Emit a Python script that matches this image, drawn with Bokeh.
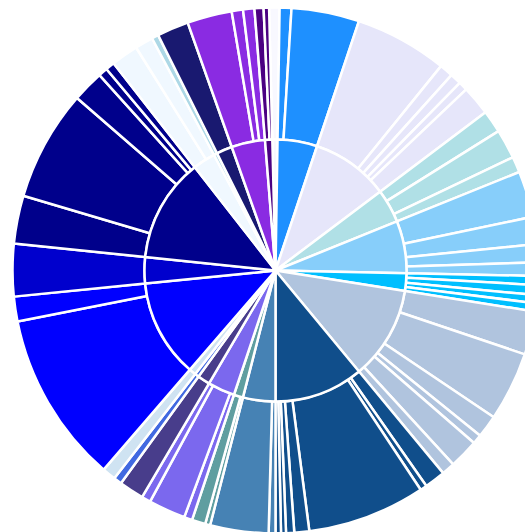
import numpy as np
from bokeh.plotting import figure
from bokeh.models import ColumnDataSource, Range1d
from bokeh.embed import file_html
from bokeh.resources import INLINE

# ---- data (clockwise from 12 o'clock) ----
parent_names = ["ghostwhite", "dodgerblue", "lavender", "powderblue", "lightskyblue",
                "deepskyblue", "lightsteelblue", "dodgerblue4", "steelblue", "cadetblue",
                "mediumslateblue", "darkslateblue", "royalblue", "paleblue", "blue",
                "mediumblue", "darkblue", "aliceblue", "lightblue", "midnightblue",
                "blueviolet", "indigo"]
parent_colors = ["#F8F8FF", "#1E90FF", "#E6E6FA", "#B0E0E6", "#87CEFA",
                 "#00BFFF", "#B0C4DE", "#104E8B", "#4682B4", "#5F9EA0",
                 "#7B68EE", "#483D8B", "#4169E1", "#CFE3F2", "#0000FF",
                 "#0000CD", "#00008B", "#F0F8FF", "#ADD8E6", "#191970",
                 "#8A2BE2", "#4B0082"]

child_parent = [0,
                1, 1,
                2, 2, 2, 2, 2,
                3, 3, 3,
                4, 4, 4, 4,
                5, 5, 5, 5,
                6, 6, 6, 6, 6, 6,
                7, 7, 7, 7, 7, 7, 7,
                8, 8,
                9, 9,
                10, 10, 10,
                11,
                12,
                13,
                14, 14,
                15,
                16, 16, 16, 16, 16,
                17, 17,
                18,
                19,
                20, 20, 20,
                21, 21]
child_size = [2.3,
              2.6, 15.0,
              20.5, 3.0, 2.5, 2.0, 6.5,
              5.0, 6.5, 3.5,
              10.2, 6.0, 4.0, 3.0,
              2.0, 2.2, 1.8, 1.8,
              9.6, 15.3, 5.0, 2.1, 6.5, 2.9,
              4.6, 1.5, 26.1, 3.3, 1.8, 1.1, 1.2,
              1.5, 12.9,
              1.1, 3.0,
              1.8, 8.2, 2.0,
              5.5,
              1.8,
              3.0,
              38.0, 5.5,
              11.6,
              10.6, 24.5, 7.0, 2.0, 2.0,
              6.0, 4.0,
              1.5,
              7.0,
              9.9, 2.5, 2.5,
              2.0, 1.2]

# ---- layout ----
W, H = 525, 532
CX, CY = 275, 270          # centre in canvas pixels
R_IN, R_OUT = 131, 263
ROTATION = -1.4            # degrees, clockwise from top

total = float(sum(child_size))
csz = np.array(child_size) / total * 360.0
c_end = ROTATION + np.cumsum(csz)
c_start = c_end - csz

psz = np.zeros(len(parent_names))
for pi, s in zip(child_parent, csz):
    psz[pi] += s
p_end = ROTATION + np.cumsum(psz)
p_start = p_end - psz

def to_bokeh(theta_deg):
    return np.deg2rad(90.0 - np.asarray(theta_deg))

inner = ColumnDataSource(dict(
    start=to_bokeh(p_end), end=to_bokeh(p_start),
    color=parent_colors, name=parent_names))
outer = ColumnDataSource(dict(
    start=to_bokeh(c_end), end=to_bokeh(c_start),
    color=[parent_colors[i] for i in child_parent]))

p = figure(width=W, height=H, output_backend="svg", toolbar_location=None,
           x_range=Range1d(-CX, W - CX), y_range=Range1d(-(H - CY), CY),
           x_axis_type=None, y_axis_type=None, min_border=0,
           outline_line_color=None, background_fill_color="white",
           border_fill_color="white")
p.grid.visible = False

p.annular_wedge(x=0, y=0, inner_radius=R_IN, outer_radius=R_OUT,
                start_angle="start", end_angle="end", source=outer,
                fill_color="color", line_color="white", line_width=2.5)
p.annular_wedge(x=0, y=0, inner_radius=0, outer_radius=R_IN,
                start_angle="start", end_angle="end", source=inner,
                fill_color="color", line_color="white", line_width=2.5)

open("out.html", "w").write(file_html(p, INLINE))
